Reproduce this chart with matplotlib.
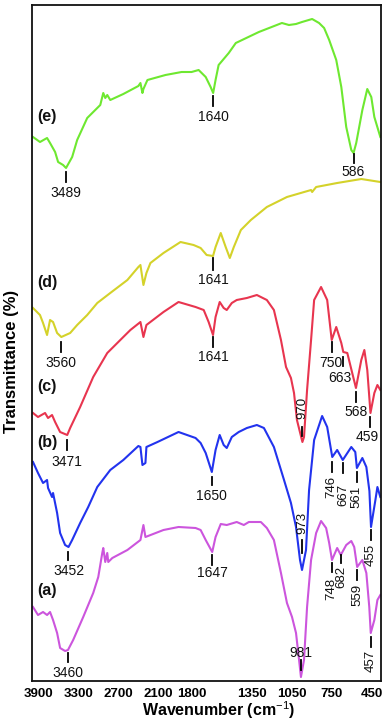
import numpy as np
import matplotlib
matplotlib.use("Agg")
import matplotlib.pyplot as plt

plt.rcParams['font.family'] = ['Liberation Sans', 'DejaVu Sans']
plt.rcParams['mathtext.fontset'] = 'custom'
plt.rcParams['mathtext.rm'] = 'Liberation Sans'
plt.rcParams['mathtext.bf'] = 'Liberation Sans:bold'

# ---------------- data (wavenumber cm-1, offset transmittance a.u.) -------------
wn_e = [3985, 3880, 3774, 3729, 3653, 3608, 3533, 3489, 3397, 3322, 3171, 2975, 2930, 2900,
        2870, 2825, 2629, 2403, 2372, 2342, 2327, 2267, 1998, 1877, 1802, 1749, 1696, 1659,
        1640, 1622, 1599, 1523, 1470, 1297, 1124, 1071, 1018, 973, 897, 845, 807, 769, 716,
        678, 641, 603, 586, 566, 520, 483, 453, 430, 385]
t_e = [544, 539, 543, 538, 529, 519, 516, 513, 524, 541, 563, 576, 588, 583,
       586, 581, 587, 595, 598, 588, 592, 601, 606, 609, 609, 611, 604, 594,
       588, 601, 616, 628, 638, 649, 658, 656, 657, 659, 662, 658, 653, 641, 621,
       594, 554, 531, 528, 538, 571, 592, 584, 564, 544]

wn_d = [3985, 3880, 3834, 3774, 3729, 3684, 3623, 3560, 3427, 3322, 3171, 3020, 2825, 2568,
        2403, 2372, 2327, 2282, 2222, 2026, 1885, 1787, 1734, 1689, 1641, 1622, 1583, 1546,
        1515, 1485, 1432, 1357, 1237, 1086, 905, 897, 867, 709, 528, 385]
t_d = [373, 366, 358, 346, 361, 359, 348, 344, 348, 356, 366, 378, 388, 401,
       414, 416, 396, 408, 418, 428, 439, 436, 433, 426, 425, 434, 448, 434,
       423, 434, 451, 461, 474, 484, 491, 489, 494, 498, 502, 499]

wn_c = [3985, 3910, 3804, 3759, 3699, 3653, 3578, 3471, 3427, 3277, 3081, 2870, 2629, 2523,
        2372, 2327, 2282, 2026, 1900, 1772, 1711, 1674, 1641, 1622, 1591, 1561, 1538, 1500,
        1463, 1387, 1312, 1237, 1184, 1131, 1093, 1056, 1033, 1011, 970, 958, 935, 905, 882,
        830, 784, 750, 716, 678, 663, 633, 596, 568, 528, 505, 483, 459, 430, 407, 385]
t_c = [268, 264, 268, 263, 266, 259, 249, 246, 253, 274, 304, 328, 344, 351,
       359, 344, 356, 369, 379, 374, 371, 359, 346, 364, 379, 373, 371, 378,
       381, 383, 386, 381, 371, 341, 314, 303, 288, 261, 239, 244, 291, 341, 381,
       394, 381, 341, 354, 338, 329, 328, 308, 293, 321, 331, 311, 268, 288, 296, 291]

wn_b = [3985, 3910, 3834, 3774, 3759, 3699, 3684, 3623, 3578, 3503, 3452, 3397, 3277, 3156,
        3020, 2825, 2629, 2403, 2372, 2342, 2297, 2282, 2116, 1900, 1772, 1734, 1696, 1650,
        1622, 1591, 1561, 1538, 1500, 1448, 1387, 1312, 1259, 1184, 1108, 1056, 1018, 988,
        973, 943, 920, 882, 822, 784, 746, 709, 667, 603, 573, 561, 520, 490, 467, 455, 422,
        407, 385]
t_b = [219, 208, 198, 201, 193, 184, 188, 168, 148, 136, 134, 141, 158, 174,
       194, 211, 221, 235, 234, 216, 218, 234, 239, 249, 243, 238, 228, 209,
       231, 246, 236, 233, 244, 249, 253, 256, 253, 234, 201, 178, 154, 121,
       111, 131, 191, 241, 265, 254, 224, 231, 221, 234, 229, 213, 223, 214, 190, 154, 181,
       194, 184]

wn_a = [3985, 3910, 3834, 3774, 3729, 3684, 3623, 3578, 3503, 3460, 3382, 3231, 3081, 3005,
        2945, 2930, 2900, 2870, 2855, 2794, 2568, 2372, 2327, 2297, 2026, 1900, 1772, 1734,
        1696, 1647, 1622, 1583, 1538, 1463, 1410, 1372, 1282, 1237, 1184, 1131, 1086, 1048,
        1018, 995, 981, 958, 935, 905, 867, 830, 792, 769, 748, 709, 682, 641, 603, 581, 559,
        520, 490, 468, 457, 430, 407, 385]
t_a = [74, 66, 69, 66, 69, 61, 48, 33, 30, 31, 41, 64, 88, 104,
       128, 133, 119, 128, 119, 123, 131, 141, 156, 144, 151, 154, 153, 151,
       141, 129, 144, 157, 156, 159, 156, 159, 159, 153, 141, 108, 78, 64,
       48, 21, 4, 21, 74, 121, 148, 160, 153, 138, 121, 133, 126, 136, 140, 134, 114,
       121, 108, 74, 48, 61, 81, 86]

series_names = ['(a)', '(b)', '(c)', '(d)', '(e)']
series_colors = ['#cc55dd', '#2233ee', '#e8354f', '#d4d22a', '#6ee830']
name_x = 3775
name_y = [91, 239, 294, 398, 564]

x_ticks = [3900, 3300, 2700, 2100, 1800, 1350, 1050, 750, 450]

# annotations: label, wavenumber, tick top, tick bottom, label y, label x, rotated
ann_label = ['3489', '1640', '586',
             '1641', '3560',
             '1641', '3471', '970', '750', '663', '568', '459',
             '3452', '1650', '973', '746', '667', '561', '455',
             '3460', '1647', '981', '748', '682', '559', '457']
ann_wn = [3489, 1640, 586,
          1641, 3560,
          1641, 3471, 970, 750, 663, 568, 459,
          3452, 1650, 973, 746, 667, 561, 455,
          3460, 1647, 981, 748, 682, 559, 457]
ann_top = [509, 585, 527,
           423, 339,
           344, 241, 254, 339, 324, 289, 264,
           129, 204, 141, 219, 218, 209, 151,
           28, 126, 21, 118, 126, 111, 44]
ann_bot = [499, 575, 518,
           411, 329,
           334, 231, 245, 329, 315, 279, 254,
           121, 196, 128, 209, 208, 199, 141,
           19, 116, 11, 109, 118, 101, 34]
ann_ty = [488, 564, 509,
          401, 318,
          324, 219, 273, 318, 303, 269, 244,
          110, 185, 158, 194, 186, 184, 126,
          8, 108, 28, 92, 104, 86, 20]
ann_tx = [3489, 1640, 586,
          1641, 3560,
          1641, 3471, 970, 760, 688, 568, 485,
          3452, 1650, 973, 752, 660, 561, 455,
          3460, 1647, 981, 754, 676, 559, 457]
ann_rot = [0, 0, 0,
           0, 0,
           0, 0, 90, 0, 0, 0, 0,
           0, 0, 90, 90, 90, 90, 90,
           0, 0, 0, 90, 90, 90, 90]


def fwd(x):
    x = np.asarray(x, dtype=float)
    return np.where(x >= 2000, x - 2000, 2.0 * (x - 2000))


def inv(u):
    u = np.asarray(u, dtype=float)
    return np.where(u >= 0, u + 2000, u / 2.0 + 2000)


fig = plt.figure(figsize=(3.86, 7.22), dpi=100)
ax = fig.add_axes([32 / 386, 41 / 722, 349 / 386, 676 / 722])
ax.set_xscale('function', functions=(fwd, inv))

xs = [wn_a, wn_b, wn_c, wn_d, wn_e]
ys = [t_a, t_b, t_c, t_d, t_e]
for x, y, c, nm, ny in zip(xs, ys, series_colors, series_names, name_y):
    ax.plot(x, y, color=c, lw=1.5, solid_joinstyle='round')
    ax.text(name_x, ny, nm, ha='center', va='center', fontsize=11.5,
            fontweight='bold', color='#111111')

for lab, w, t0, t1, ty, tx, r in zip(ann_label, ann_wn, ann_top, ann_bot,
                                     ann_ty, ann_tx, ann_rot):
    ax.plot([w, w], [t0, t1], color='black', lw=1.3)
    ax.text(tx, ty, lab, ha='center', va='center', rotation=r,
            fontsize=9.5 if r else 10, color='#111111')

ax.set_xlim(4000, 380)
ax.set_ylim(0, 676)
ax.set_xticks(x_ticks)
ax.set_xticklabels([str(v) for v in x_ticks], fontsize=9.5, fontweight='bold')
ax.minorticks_off()
ax.tick_params(axis='x', length=0, pad=5)
ax.set_yticks([])
for s in ax.spines.values():
    s.set_linewidth(1.3)
    s.set_color('#111111')

ax.set_xlabel(r'Wavenumber (cm$^{-1}$)', fontsize=11.5, fontweight='bold')
ax.xaxis.set_label_coords(0.536, -0.027)
ax.set_ylabel('Transmittance (%)', fontsize=12, fontweight='bold')
ax.yaxis.set_label_coords(-0.036, 0.473)

fig.savefig('out.png', dpi=100)
